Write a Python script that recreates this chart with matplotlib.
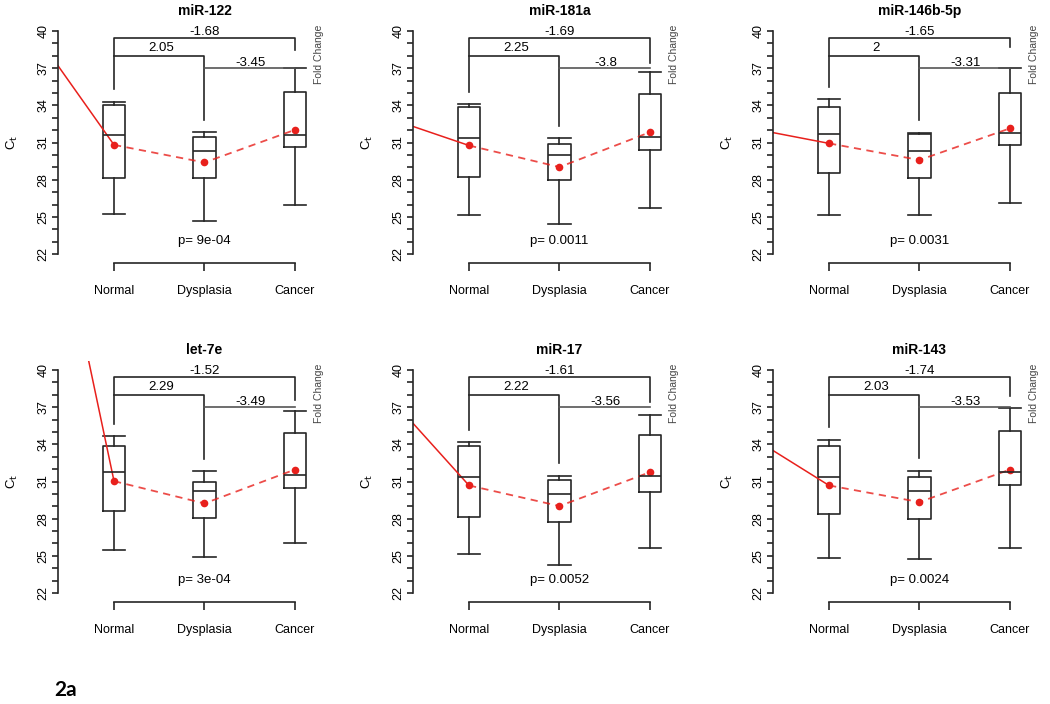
import matplotlib
matplotlib.use("Agg")
import matplotlib.pyplot as plt

plt.rcParams['font.family'] = ['Liberation Sans', 'DejaVu Sans']

# Datos
genes = ['miR-122', 'miR-181a', 'miR-146b-5p', 'let-7e', 'miR-17', 'miR-143']
grupos = ['Normal', 'Dysplasia', 'Cancer']

bigote_bajo = [[25.25, 24.63, 25.98], [25.13, 24.41, 25.75], [25.15, 25.15, 26.09],
               [25.45, 24.87, 26.07], [25.13, 24.28, 25.61], [24.81, 24.73, 25.61]]
q1 = [[28.13, 28.13, 30.60], [28.21, 28.00, 30.41], [28.51, 28.11, 30.80],
      [28.62, 28.03, 30.49], [28.13, 27.73, 30.14], [28.40, 28.00, 30.68]]
mediana = [[31.62, 30.33, 31.62], [31.37, 30.03, 31.43], [31.69, 30.31, 31.79],
           [31.75, 30.22, 31.56], [31.37, 30.03, 31.48], [31.37, 30.22, 31.78]]
q3 = [[34.04, 31.48, 35.11], [33.89, 30.89, 34.91], [33.84, 31.69, 34.97],
      [33.84, 30.97, 34.91], [33.84, 31.11, 34.78], [33.84, 31.35, 35.10]]
bigote_alto = [[34.30, 31.83, 36.99], [34.11, 31.37, 36.65], [34.51, 31.79, 36.99],
               [34.64, 31.83, 36.65], [34.16, 31.48, 36.38], [34.37, 31.88, 36.92]]
medias = [[30.81, 29.39, 32.02], [30.76, 29.02, 31.83], [30.93, 29.59, 32.14],
          [31.03, 29.23, 31.96], [30.68, 29.02, 31.75], [30.68, 29.34, 31.96]]
inicio_linea = [37.2, 32.3, 31.8, 52.5, 35.7, 33.5]
pata_cancer = [38.47, 37.45, 38.74, 37.59, 37.45, 37.86]

fc_normal_cancer = ['-1.68', '-1.69', '-1.65', '-1.52', '-1.61', '-1.74']
fc_normal_displasia = ['2.05', '2.25', '2', '2.29', '2.22', '2.03']
fc_displasia_cancer = ['-3.45', '-3.8', '-3.31', '-3.49', '-3.56', '-3.53']
pvalores = ['9e-04', '0.0011', '0.0031', '3e-04', '0.0052', '0.0024']

fig = plt.figure(figsize=(10.5, 7.04), dpi=100)
izquierdas = [0.0552, 0.3933, 0.7362]
abajos = [0.6264, 0.1449]
ancho, alto = 0.279, 0.3423
x = [1, 2, 3]
negro = '#262626'
rojo = '#e8201c'

for k, gen in enumerate(genes):
    ax = fig.add_axes([izquierdas[k % 3], abajos[k // 3], ancho, alto])
    ax.set_xlim(0.38, 3.62)
    ax.set_ylim(21.28, 40.72)

    stats = []
    for j in range(3):
        stats.append({'whislo': bigote_bajo[k][j], 'q1': q1[k][j], 'med': mediana[k][j],
                      'q3': q3[k][j], 'whishi': bigote_alto[k][j], 'fliers': []})
    estilo = dict(color=negro, linewidth=1.2)
    ax.bxp(stats, positions=x, widths=0.25, capwidths=0.25, showfliers=False,
           boxprops=estilo, whiskerprops=estilo, capprops=estilo,
           medianprops=estilo)

    # linea roja de medias
    ax.plot([0.38, 1], [inicio_linea[k], medias[k][0]], color=rojo, lw=1.1)
    ax.plot(x, medias[k], color=rojo, lw=1.3, ls=(0, (4, 3)), alpha=0.8)
    ax.plot(x, medias[k], 'o', color=rojo, ms=5.5, mec='none')

    # corchetes de fold change
    ax.plot([1, 1, 3, 3], [bigote_alto[k][0] + 1, 39.4, 39.4, pata_cancer[k]],
            color=negro, lw=1.2)
    ax.plot([1, 2, 2], [38.0, 38.0, bigote_alto[k][1] + 1], color=negro, lw=1.2)
    ax.plot([2, 3], [37.0, 37.0], color='#555555', lw=1.2)
    ax.text(2, 39.95, fc_normal_cancer[k], ha='center', va='center', fontsize=9.5)
    ax.text(1.52, 38.6, fc_normal_displasia[k], ha='center', va='center', fontsize=9.5)
    ax.text(2.51, 37.45, fc_displasia_cancer[k], ha='center', va='center', fontsize=9.5)
    ax.text(3.27, 38.1, 'Fold Change', rotation=90, ha='center', va='center',
            fontsize=7.5, color='#444444')
    ax.text(2, 23.05, 'p= ' + pvalores[k], ha='center', va='center', fontsize=9.5)

    # ejes estilo R
    for lado in ['top', 'right']:
        ax.spines[lado].set_visible(False)
    ax.spines['left'].set_bounds(22, 40)
    ax.spines['bottom'].set_bounds(1, 3)
    for lado in ['left', 'bottom']:
        ax.spines[lado].set_color(negro)
        ax.spines[lado].set_linewidth(1.2)
    ax.set_yticks([22, 25, 28, 31, 34, 37, 40])
    ax.set_yticks([v for v in range(22, 41) if (v - 22) % 3 != 0], minor=True)
    ax.set_yticklabels([22, 25, 28, 31, 34, 37, 40], rotation=90, va='center', fontsize=9)
    ax.tick_params(axis='y', which='both', length=4, width=1.2, color=negro, pad=2)
    ax.set_xticks(x)
    ax.set_xticklabels(grupos, fontsize=9)
    ax.tick_params(axis='x', length=6, width=1.2, color=negro, pad=10)
    ax.set_ylabel(r'C$_\mathrm{t}$', fontsize=9.5, labelpad=13)
    ax.set_title(gen, fontsize=10, fontweight='bold', pad=5)

fig.text(0.052, 0.012, '2a', fontsize=15, fontweight='bold', family=['Lato', 'DejaVu Sans'])
fig.savefig('out.png', dpi=100)
